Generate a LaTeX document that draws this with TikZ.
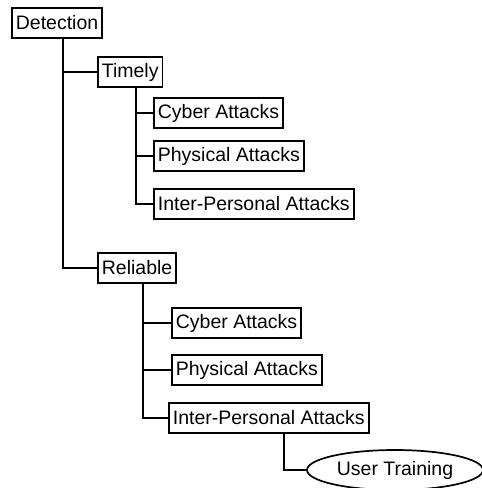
\documentclass[tikz,border=0pt]{standalone}
\usepackage{fontspec}
\setmainfont{Liberation Sans}
\usepackage{tikz}
\usetikzlibrary{shapes,positioning,calc}

\tikzset{
  treebox/.style={draw,line width=1.7pt,anchor=west,inner xsep=4pt,inner ysep=0pt,
    minimum height=30pt,font=\fontsize{19.5}{22}\selectfont},
  treeline/.style={line width=1.8pt}
}

\begin{document}
\begin{tikzpicture}[x=1pt,y=-1pt]
  \useasboundingbox (0,0) rectangle (482,488);

  \node[treebox] (detection) at (11,23) {Detection};
  \node[treebox] (timely) at (97,72) {Timely};
  \node[treebox] (tcyber) at (153,113) {Cyber Attacks};
  \node[treebox] (tphys) at (153,156) {Physical Attacks};
  \node[treebox] (tinter) at (153,204) {Inter-Personal Attacks};
  \node[treebox] (reliable) at (97,268) {Reliable};
  \node[treebox] (rcyber) at (171,323) {Cyber Attacks};
  \node[treebox] (rphys) at (171,370) {Physical Attacks};
  \node[treebox] (rinter) at (168,418) {Inter-Personal Attacks};
  \node[ellipse,draw,line width=1.7pt,minimum width=176pt,minimum height=40pt,
        font=\fontsize{19.5}{22}\selectfont] (training) at (395,470) {User Training};

  % branches
  \draw[treeline] ([xshift=6pt]detection.south) |- (timely.west);
  \draw[treeline] ([xshift=6pt]detection.south) |- (reliable.west);
  \draw[treeline] ([xshift=6pt]timely.south) |- (tcyber.west);
  \draw[treeline] ([xshift=6pt]timely.south) |- (tphys.west);
  \draw[treeline] ([xshift=6pt]timely.south) |- (tinter.west);
  \draw[treeline] ([xshift=6pt]reliable.south) |- (rcyber.west);
  \draw[treeline] ([xshift=6pt]reliable.south) |- (rphys.west);
  \draw[treeline] ([xshift=6pt]reliable.south) |- (rinter.west);
  \draw[treeline] ([xshift=15pt]rinter.south) |- (training.west);
\end{tikzpicture}
\end{document}
